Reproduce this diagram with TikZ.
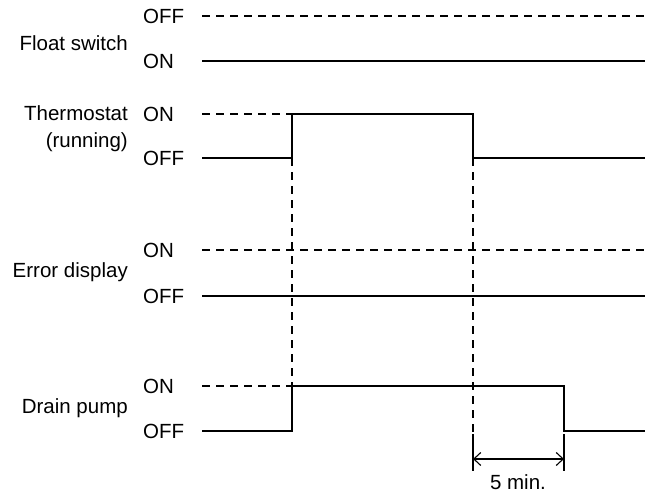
\documentclass[tikz,border=0pt]{standalone}
\usepackage{fontspec}
\setmainfont{Liberation Sans}
\usetikzlibrary{arrows.meta}
\begin{document}
\begin{tikzpicture}[x=1pt,y=-1pt,
  sigline/.style={line width=1.3pt,line cap=butt},
  refline/.style={line width=1.1pt,dash pattern=on 8pt off 6pt},
  lvltext/.style={anchor=west,font=\fontsize{20.5}{24}\selectfont,inner sep=0pt},
  sigtext/.style={anchor=east,font=\fontsize{20.5}{27}\selectfont,inner sep=0pt,align=right},
  dimline/.style={line width=1.1pt},
  dimarrow/.style={line width=1.1pt,{Straight Barb[length=7pt,width=13pt]}-{Straight Barb[length=7pt,width=13pt]}}]
\useasboundingbox (0,0) rectangle (647,492);
% labels
\node[lvltext] (fsoff) at (143,16) {OFF};
\node[lvltext] (fson) at (143,61) {ON};
\node[sigtext] (fs) at (128,43) {Float switch};
\node[lvltext] (thon) at (143,114) {ON};
\node[lvltext] (thoff) at (143,158) {OFF};
\node[sigtext] (th) at (128,129) {Thermostat\\(running)};
\node[lvltext] (edon) at (143,250) {ON};
\node[lvltext] (edoff) at (143,296) {OFF};
\node[sigtext] (ed) at (128,272) {Error display};
\node[lvltext] (dpon) at (143,386) {ON};
\node[lvltext] (dpoff) at (143,431) {OFF};
\node[sigtext] (dp) at (128,408) {Drain pump};
% coordinates
\coordinate (L1) at (202,16);  \coordinate (R1) at (645,16);
\coordinate (L2) at (202,61);  \coordinate (R2) at (645,61);
\coordinate (L3) at (202,114); \coordinate (A3) at (292,114);
\coordinate (L4) at (202,158); \coordinate (A4) at (292,158);
\coordinate (B3) at (473,114); \coordinate (B4) at (473,158); \coordinate (R4) at (645,158);
\coordinate (L5) at (202,250); \coordinate (R5) at (645,250);
\coordinate (L6) at (202,296); \coordinate (R6) at (645,296);
\coordinate (L7) at (202,386); \coordinate (A7) at (292,386); \coordinate (C7) at (564,386);
\coordinate (L8) at (202,431); \coordinate (A8) at (292,431); \coordinate (C8) at (564,431); \coordinate (R8) at (645,431);
\coordinate (B8) at (473,432);
\coordinate (E1t) at (473,434); \coordinate (E1b) at (473,471);
\coordinate (E2t) at (564,434); \coordinate (E2b) at (564,471);
\coordinate (D1) at (473,459); \coordinate (D2) at (564,459);
% float switch
\draw[refline] (L1) -- (R1);
\draw[sigline] (L2) -- (R2);
% thermostat
\draw[refline] (L3) -- (A3);
\draw[sigline] (L4) -- (A4) -- (A3) -- (B3) -- (B4) -- (R4);
% error display
\draw[refline] (L5) -- (R5);
\draw[sigline] (L6) -- (R6);
% drain pump
\draw[refline] (L7) -- (A7);
\draw[sigline] (L8) -- (A8) -- (A7) -- (C7) -- (C8) -- (R8);
% vertical references
\draw[refline] (A4) -- (A7);
\draw[refline] (B4) -- (B8);
% dimension
\draw[dimline] (E1t) -- (E1b);
\draw[dimline] (E2t) -- (E2b);
\draw[dimarrow] (D1) -- (D2);
\node[font=\fontsize{20.5}{24}\selectfont,inner sep=0pt,anchor=base] (five) at (518,489) {5 min.};
\end{tikzpicture}
\end{document}
